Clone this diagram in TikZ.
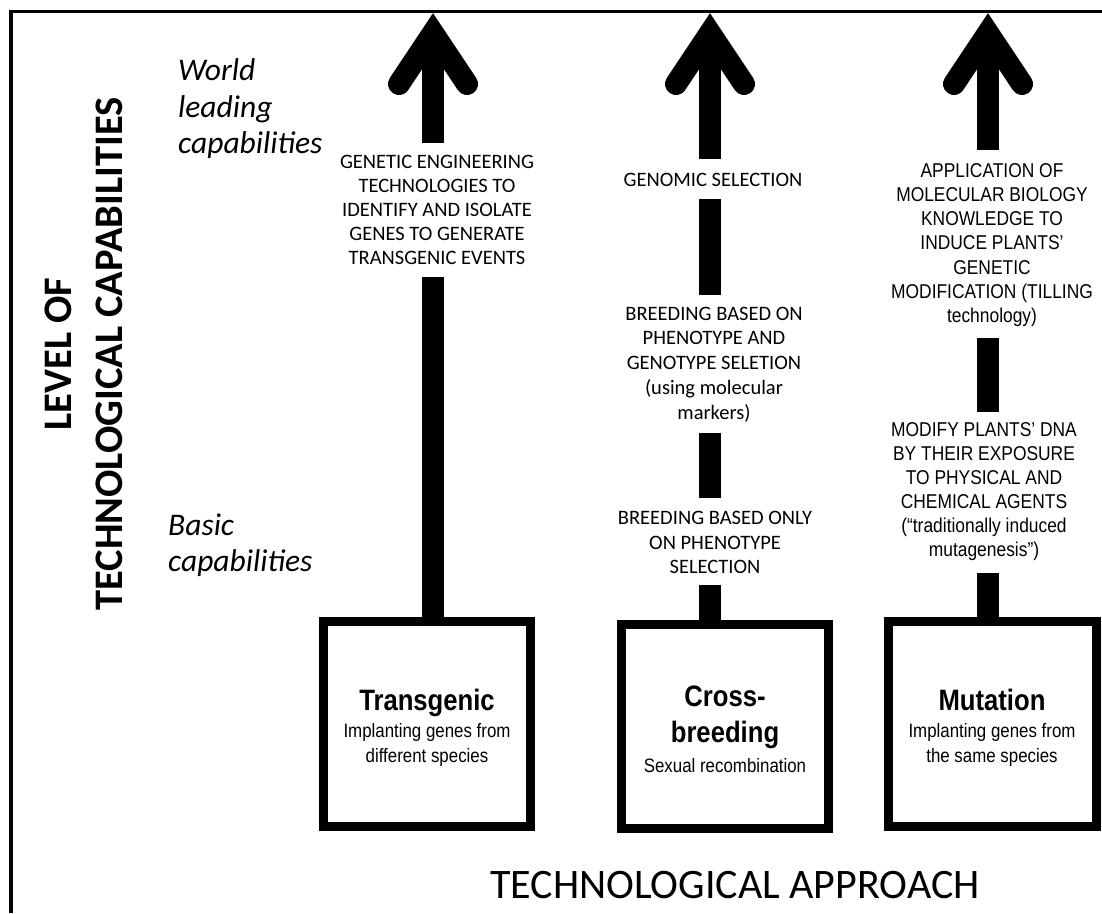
\documentclass[tikz,border=0pt]{standalone}
\usepackage{fontspec}
\setmainfont{Carlito}
\newfontfamily\narrowsans[FakeStretch=0.87]{Liberation Sans}
\usetikzlibrary{calc}
\tikzset{
  shaft/.style={line width=22pt, line cap=butt},
  headst/.style={line width=22pt, line cap=round, line join=miter},
  boxst/.style={draw, line width=9pt, inner sep=0pt, minimum width=207pt, minimum height=205pt},
  frame/.style={line width=3.5pt},
  captxt/.style={align=center, inner sep=0pt, font=\fontsize{20.5}{24}\selectfont},
  arialtxt/.style={align=center, inner sep=0pt, font=\narrowsans\fontsize{20}{24.2}\selectfont},
  boxtitle/.style={inner sep=0pt, anchor=base, font=\narrowsans\bfseries\fontsize{29.5}{36}\selectfont},
  boxsub/.style={inner sep=0pt, anchor=base, font=\narrowsans\fontsize{19.4}{25}\selectfont},
  italab/.style={align=left, inner sep=0pt, anchor=west, font=\itshape\fontsize{31.5}{36.5}\selectfont},
}
\begin{document}
\begin{tikzpicture}[x=1pt, y=-1pt]
\useasboundingbox (0,0) rectangle (1102,913);
% frame (left and top edges)
\coordinate (fbl) at (11,913);
\coordinate (ftl) at (11,11.5);
\coordinate (ftr) at (1102,11.5);
\draw[frame] (fbl) -- (ftl) -- (ftr);

% axis labels
\node[rotate=90, align=center, inner sep=0pt, font=\bfseries\fontsize{40.5}{50.5}\selectfont] (ylab) at (84,354) {LEVEL OF\\TECHNOLOGICAL CAPABILITIES};
\node[inner sep=0pt, font=\fontsize{42}{50}\selectfont] (xlab) at (735,885) {TECHNOLOGICAL APPROACH};
\node[italab] (wlc) at (178,109) {World\\leading\\capabilities};
\node[italab] (bc) at (168,545) {Basic\\capabilities};

% boxes
\node[boxst] (b1) at (427,724) {};
\node[boxst, minimum height=204pt] (b2) at (725,726.5) {};
\node[boxst, minimum width=208pt] (b3) at (992.5,724) {};

\node[boxtitle] (b1t) at (427,710) {Transgenic};
\node[boxsub] (b1s1) at (427,737) {Implanting genes from};
\node[boxsub] (b1s2) at (427,762) {different species};

\node[boxtitle] (b2t1) at (725,706) {Cross-};
\node[boxtitle] (b2t2) at (725,742) {breeding};
\node[boxsub] (b2s) at (725,772) {Sexual recombination};

\node[boxtitle] (b3t) at (992,710) {Mutation};
\node[boxsub] (b3s1) at (992,737) {Implanting genes from};
\node[boxsub] (b3s2) at (992,762) {the same species};

% arrow texts
\node[captxt] (t1) at (437,209.5) {GENETIC ENGINEERING\\TECHNOLOGIES TO\\IDENTIFY AND ISOLATE\\GENES TO GENERATE\\TRANSGENIC EVENTS};
\node[captxt] (t2a) at (713,180) {GENOMIC SELECTION};
\node[captxt, font=\fontsize{20.5}{24.75}\selectfont] (t2b) at (714,364.5) {BREEDING BASED ON\\PHENOTYPE AND\\GENOTYPE SELETION\\(using molecular\\markers)};
\node[captxt, font=\fontsize{20.5}{24.5}\selectfont] (t2c) at (715,542.5) {BREEDING BASED ONLY\\ON PHENOTYPE\\SELECTION};
\node[arialtxt] (t3a) at (992,245) {APPLICATION OF\\MOLECULAR BIOLOGY\\KNOWLEDGE TO\\INDUCE PLANTS’\\GENETIC\\MODIFICATION (TILLING\\technology)};
\node[arialtxt, font=\narrowsans\fontsize{20}{24}\selectfont] (t3b) at (984,492) {MODIFY PLANTS’ DNA\\BY THEIR EXPOSURE\\TO PHYSICAL AND\\CHEMICAL AGENTS\\(“traditionally induced\\mutagenesis”)};

% arrow 1
\coordinate (h1) at (433,33);
\coordinate (e1a) at (433,143);
\coordinate (e1b) at (433,277);
\draw[headst] ($(h1)+(-34,51)$) -- (h1) -- ($(h1)+(34,51)$);
\draw[shaft] (h1) -- (e1a);
\draw[shaft] (e1b) -- (e1b |- b1.north);

% arrow 2
\coordinate (h2) at (710,33);
\coordinate (e2a) at (710,159);
\coordinate (e2b) at (710,199);
\coordinate (e2c) at (710,295);
\coordinate (e2d) at (710,433);
\coordinate (e2e) at (710,498);
\coordinate (e2f) at (710,585);
\draw[headst] ($(h2)+(-34,51)$) -- (h2) -- ($(h2)+(34,51)$);
\draw[shaft] (h2) -- (e2a);
\draw[shaft] (e2b) -- (e2c);
\draw[shaft] (e2d) -- (e2e);
\draw[shaft] (e2f) -- (e2f |- b2.north);

% arrow 3
\coordinate (h3) at (988,33);
\coordinate (e3a) at (988,150);
\coordinate (e3b) at (988,338);
\coordinate (e3c) at (988,412);
\coordinate (e3d) at (988,573);
\draw[headst] ($(h3)+(-34,51)$) -- (h3) -- ($(h3)+(34,51)$);
\draw[shaft] (h3) -- (e3a);
\draw[shaft] (e3b) -- (e3c);
\draw[shaft] (e3d) -- (e3d |- b3.north);
\end{tikzpicture}
\end{document}
